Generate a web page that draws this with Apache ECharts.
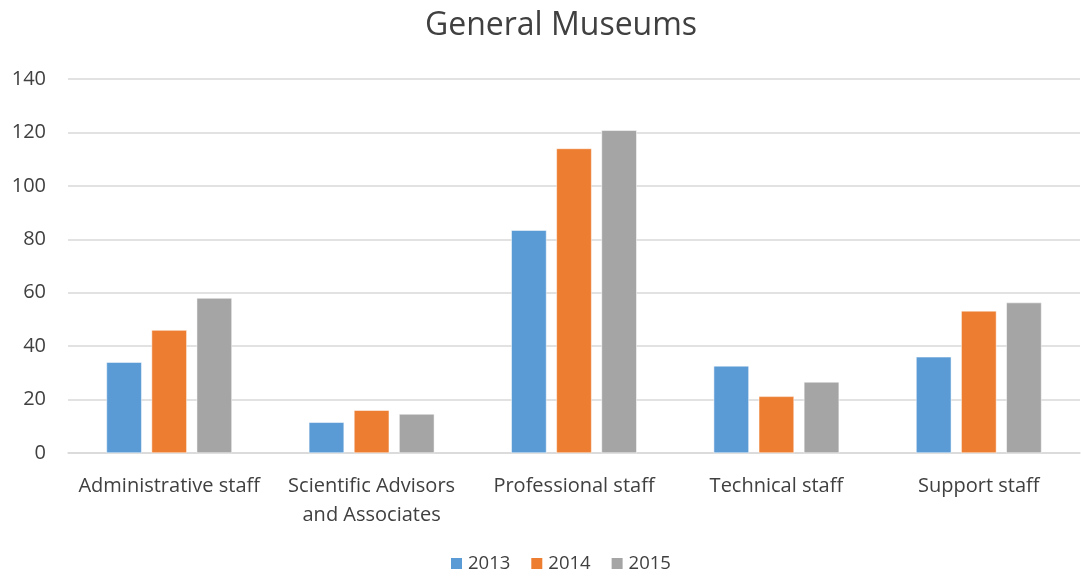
<!DOCTYPE html>
<html>
<head>
<meta charset="utf-8">
<script src="https://cdn.jsdelivr.net/npm/echarts@6/dist/echarts.min.js"></script>
<style>
	html, body { margin: 0; padding: 0; background: #fff; }
	#chart { width: 1081px; height: 578px; }
</style>
</head>
<body>
<div id="chart"></div>
<script>
// data
const categories = [
	"Administrative staff",
	"Scientific Advisors\nand Associates",
	"Professional staff",
	"Technical staff",
	"Support staff",
];
const years = ["2013", "2014", "2015"];
const values2013 = [34, 11.5, 83.4, 32.6, 36];
const values2014 = [46, 16, 114, 21.2, 53.2];
const values2015 = [58, 14.6, 120.8, 26.6, 56.3];
const yTicks = { min: 0, max: 140, interval: 20 };

const colors = ["#5B9BD5", "#ED7D31", "#A5A5A5"];
const font = "'Open Sans', sans-serif";
const textColor = "#404040";

const chart = echarts.init(document.getElementById("chart"));

const seriesValues = [values2013, values2014, values2015];
const series = years.map((y, i) => {
	return {
		name: y,
		type: "bar",
		data: seriesValues[i],
		barGap: "28%",
		barCategoryGap: "38%",
		itemStyle: {
			color: colors[i],
			borderColor: "#fff",
			borderWidth: 0.5,
		},
		emphasis: { disabled: true },
	};
});

chart.setOption({
	animation: false,
	color: colors,
	title: {
		text: "General Museums",
		left: 556,
		textAlign: "center",
		top: 5,
		textStyle: {
			fontFamily: font,
			fontSize: 32,
			fontWeight: "normal",
			color: textColor,
		},
	},
	legend: {
		bottom: 0,
		left: 444,
		itemWidth: 13,
		itemHeight: 13,
		itemGap: 19,
		icon: "rect",
		textStyle: {
			fontFamily: font,
			fontSize: 18.5,
			color: textColor,
		},
	},
	grid: {
		left: 68,
		right: 1,
		top: 79,
		bottom: 125,
		containLabel: false,
	},
	xAxis: {
		type: "category",
		data: categories,
		axisTick: { show: false },
		axisLine: { lineStyle: { color: "#d9d9d9", width: 1.5 } },
		axisLabel: {
			interval: 0,
			margin: 19,
			lineHeight: 29,
			fontFamily: font,
			fontSize: 20,
			color: textColor,
		},
	},
	yAxis: {
		type: "value",
		min: yTicks.min,
		max: yTicks.max,
		interval: yTicks.interval,
		axisLine: { show: false },
		axisTick: { show: false },
		splitLine: { lineStyle: { color: "#d9d9d9", width: 1.5 } },
		axisLabel: {
			margin: 22,
			fontFamily: font,
			fontSize: 20,
			color: textColor,
		},
	},
	series: series,
});
</script>
</body>
</html>
